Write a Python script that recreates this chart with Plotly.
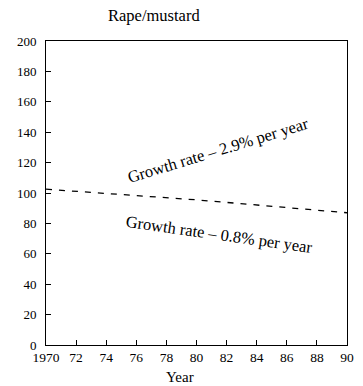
import plotly.graph_objects as go

years = [1970, 1980, 1990]
values = [102.5, 95.5, 87]
x_ticks = [1970, 1972, 1974, 1976, 1978, 1980, 1982, 1984, 1986, 1988, 1990]
x_labels = ["1970", "72", "74", "76", "78", "80", "82", "84", "86", "88", "90"]
y_ticks = [0, 20, 40, 60, 80, 100, 120, 140, 160, 180, 200]

SERIF = "Liberation Serif, Times New Roman, serif"

fig = go.Figure()
fig.add_trace(go.Scatter(x=years, y=values, mode="lines",
                         line=dict(color="black", width=1.3, dash="6px,7px"),
                         showlegend=False, hoverinfo="skip"))

fig.update_layout(
    width=363, height=386,
    margin=dict(l=46, r=9, t=41, b=41),
    paper_bgcolor="white", plot_bgcolor="white",
    font=dict(family=SERIF, size=13, color="black"),
    xaxis=dict(range=[1970, 1990], tickvals=x_ticks, ticktext=x_labels,
               showgrid=False, zeroline=False, showline=True, linecolor="black",
               linewidth=1, mirror=True, ticks="inside", ticklen=5,
               tickcolor="black", ticklabelstandoff=0,
               tickfont=dict(family=SERIF, size=13.5)),
    yaxis=dict(range=[0, 200], tickvals=y_ticks,
               showgrid=False, zeroline=False, showline=True, linecolor="black",
               linewidth=1, mirror=True, ticks="inside", ticklen=5,
               tickcolor="black", ticklabelstandoff=6,
               tickfont=dict(family=SERIF, size=13)),
    annotations=[
        dict(text="Rape/mustard", xref="paper", yref="paper", x=0.36, y=1.085,
             yanchor="middle", xanchor="center",
             showarrow=False, font=dict(family=SERIF, size=16.5)),
        dict(text="Year", xref="paper", yref="paper", x=0.445, y=-0.105,
             yanchor="middle", xanchor="center",
             showarrow=False, font=dict(family=SERIF, size=15)),
        dict(text="Growth rate – 2.9% per year", xref="x", yref="y",
             x=1981.4, y=128, textangle=-17, showarrow=False,
             xanchor="center", yanchor="middle",
             font=dict(family=SERIF, size=16.5)),
        dict(text="Growth rate – 0.8% per year", xref="x", yref="y",
             x=1981.5, y=72.4, textangle=8, showarrow=False,
             xanchor="center", yanchor="middle",
             font=dict(family=SERIF, size=16.5)),
    ],
)

fig.write_html("out.html")
